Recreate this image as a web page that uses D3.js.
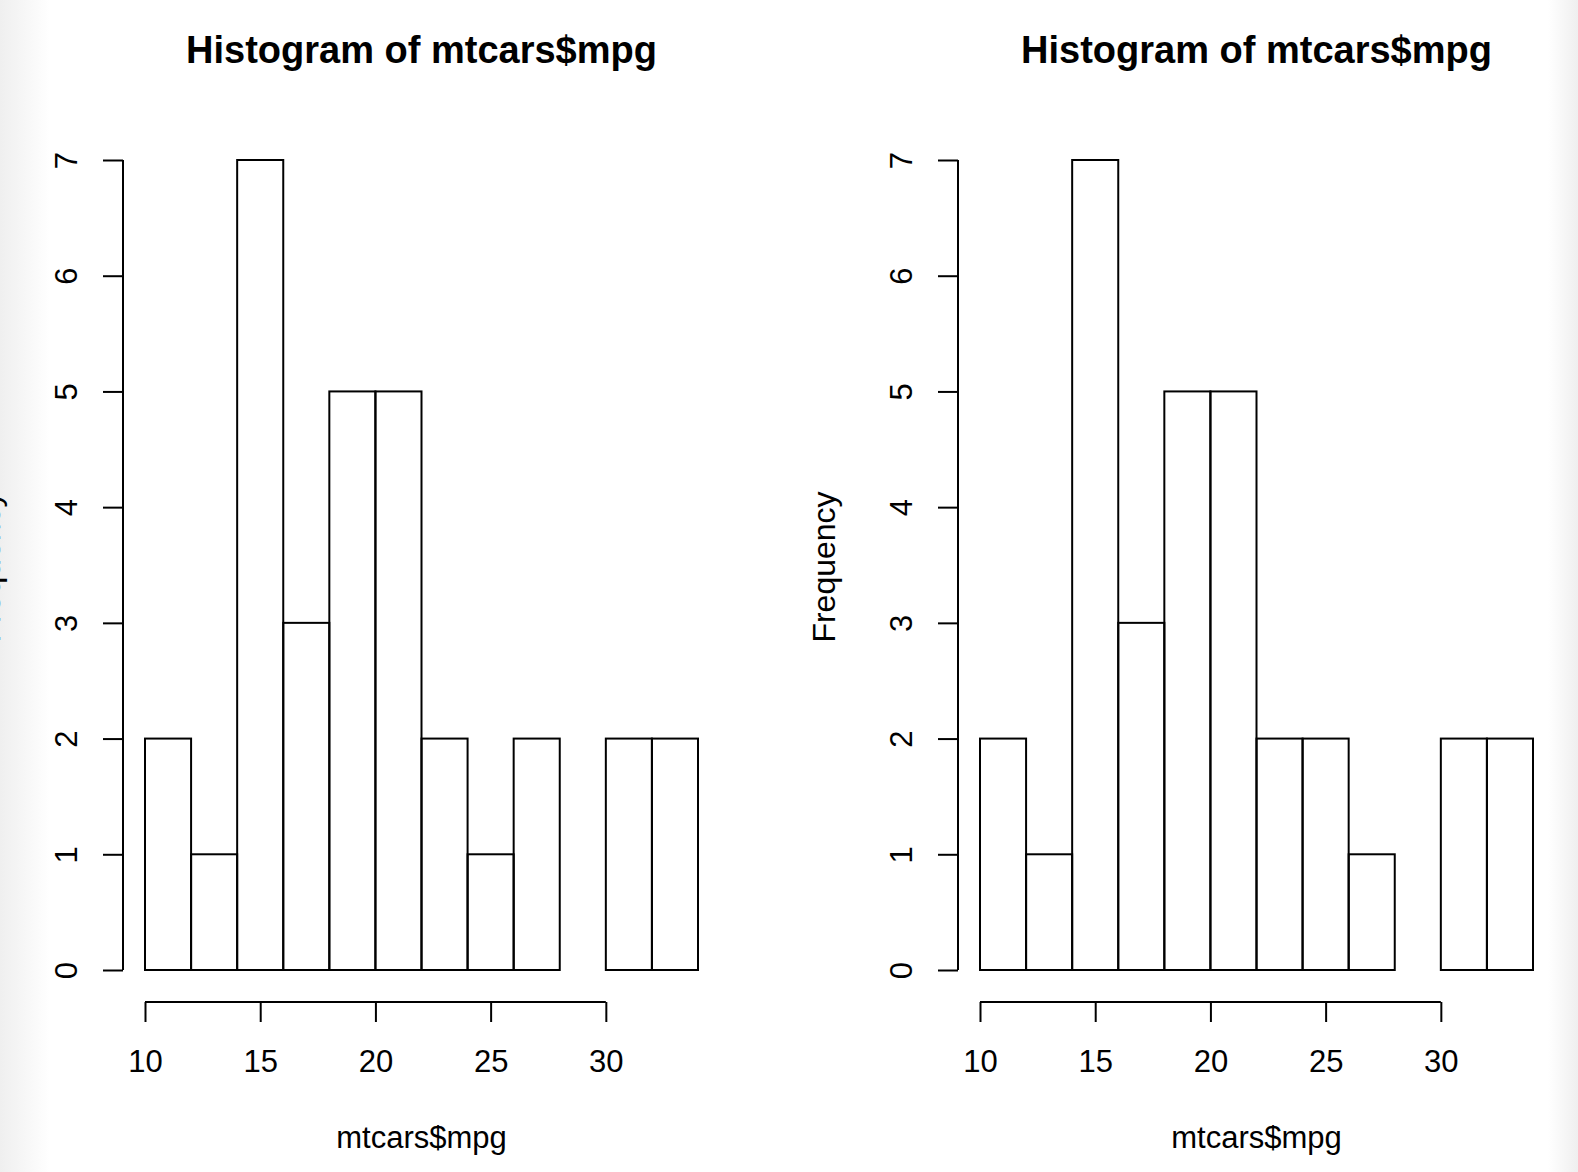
<!DOCTYPE html>
<html>
<head>
<meta charset="utf-8">
<script src="https://cdn.jsdelivr.net/npm/d3@7"></script>
<style>
  body { margin: 0; background: #fff; }
  svg { display: block; }
  text { font-family: "Liberation Sans", Arial, sans-serif; fill: #000; }
</style>
</head>
<body>
<div id="chart"></div>
<script>
// bin edges (mpg), width 2
var binEdges = [10, 12, 14, 16, 18, 20, 22, 24, 26, 28, 30, 32, 34];
// counts per bin, left plot (right-closed) and right plot (left-closed)
var countsLeft = [2, 1, 7, 3, 5, 5, 2, 1, 2, 0, 2, 2];
var countsRight = [2, 1, 7, 3, 5, 5, 2, 2, 1, 0, 2, 2];
var xTicks = [10, 15, 20, 25, 30];
var yTicks = [0, 1, 2, 3, 4, 5, 6, 7];
var titleText = "Histogram of mtcars$mpg";
var xLabel = "mtcars$mpg";
var yLabel = "Frequency";

var W = 1578, H = 1172;
var svg = d3.select("#chart").append("svg").attr("width", W).attr("height", H);

// faint shadow at the window edges
var defs = svg.append("defs");
var gl = defs.append("linearGradient").attr("id", "gl");
gl.append("stop").attr("offset", 0).attr("stop-color", "#efefef");
gl.append("stop").attr("offset", 1).attr("stop-color", "#ffffff");
var gr = defs.append("linearGradient").attr("id", "gr");
gr.append("stop").attr("offset", 0).attr("stop-color", "#ffffff");
gr.append("stop").attr("offset", 1).attr("stop-color", "#efefef");
svg.append("rect").attr("width", W).attr("height", H).attr("fill", "#fff");
svg.append("rect").attr("x", 0).attr("width", 50).attr("height", H).attr("fill", "url(#gl)");
svg.append("rect").attr("x", W - 30).attr("width", 30).attr("height", H).attr("fill", "url(#gr)");

function drawHist(counts, x0, x1, axisX) {
  var x = d3.scaleLinear().domain([10, 34]).range([x0, x1]);
  var y = d3.scaleLinear().domain([0, 7]).range([970, 160]);
  var g = svg.append("g");
  var bins = counts.map(function (c, i) { return { lo: binEdges[i], hi: binEdges[i + 1], n: c }; });

  g.selectAll("rect.bar").data(bins).enter().append("rect")
    .attr("class", "bar")
    .attr("x", function (d) { return x(d.lo); })
    .attr("width", function (d) { return x(d.hi) - x(d.lo); })
    .attr("y", function (d) { return y(d.n); })
    .attr("height", function (d) { return y(0) - y(d.n); })
    .attr("fill", "none").attr("stroke", "#000").attr("stroke-width", 2);

  // x axis, R style: detached below the bars
  var xa = g.append("g").attr("transform", "translate(0,1002)")
    .call(d3.axisBottom(x).tickValues(xTicks).tickSize(20).tickSizeOuter(0));
  xa.select(".domain").attr("d", "M" + x(10) + ",0H" + x(30)).attr("stroke-width", 2);
  xa.selectAll(".tick line").attr("stroke-width", 2);
  xa.selectAll(".tick text").attr("y", 70).attr("dy", null).attr("font-size", 31);

  // y axis
  var ya = g.append("g").attr("transform", "translate(" + axisX + ",0)")
    .call(d3.axisLeft(y).tickValues(yTicks).tickSize(20).tickSizeOuter(0));
  ya.select(".domain").attr("d", "M0," + y(0) + "V" + y(7)).attr("stroke-width", 2);
  ya.selectAll(".tick line").attr("stroke-width", 2);
  ya.selectAll(".tick text").remove();
  ya.selectAll(".tick").append("text")
    .attr("transform", "translate(-46,0) rotate(-90)")
    .attr("text-anchor", "middle")
    .attr("font-size", 31).text(function (d) { return d; });

  var cx = (x0 + x1) / 2;
  g.append("text").attr("x", cx).attr("y", 63).attr("text-anchor", "middle")
    .attr("font-size", 38).attr("font-weight", "bold").text(titleText);
  g.append("text").attr("x", cx).attr("y", 1148).attr("text-anchor", "middle")
    .attr("font-size", 31).text(xLabel);
  g.append("text")
    .attr("transform", "translate(" + (axisX - 123) + ",567) rotate(-90)")
    .attr("text-anchor", "middle")
    .attr("font-size", 32).text(yLabel);
}

drawHist(countsLeft, 145, 698, 123);
drawHist(countsRight, 980, 1533, 958);
</script>
</body>
</html>
